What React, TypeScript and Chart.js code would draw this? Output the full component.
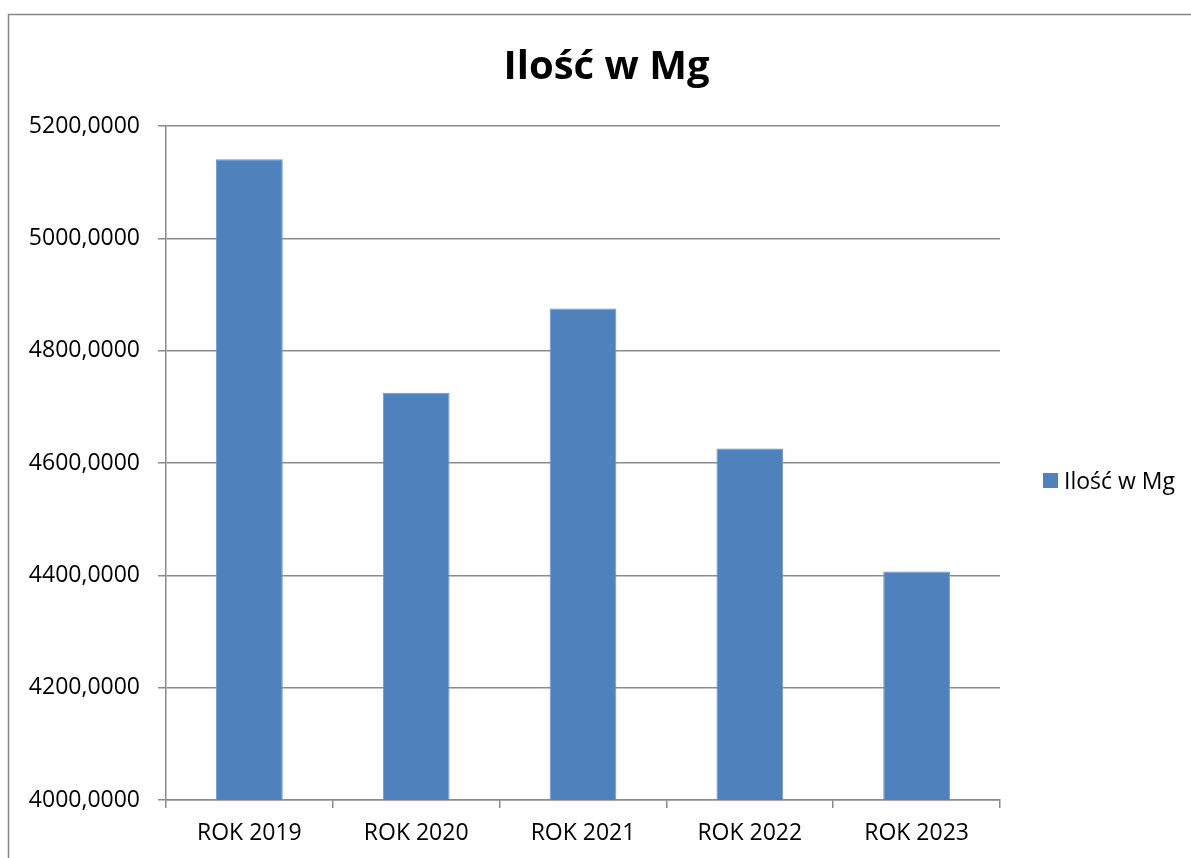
import React, { useEffect, useRef } from "react";
import { Chart, registerables } from "chart.js";

Chart.register(...registerables);

const TITLE = "Ilość w Mg";
const SERIES_NAME = "Ilość w Mg";
const categories = ["ROK 2019", "ROK 2020", "ROK 2021", "ROK 2022", "ROK 2023"];
const values = [5141, 4725, 4875, 4626, 4407];
const yMin = 4000;
const yMax = 5200;
const yStep = 200;

const FONT = "'Open Sans', 'Noto Sans', sans-serif";
const BAR_COLOR = "#4F81BD";
const GRID_COLOR = "#8a8a8a";

const decorPlugin = {
  id: "decor",
  afterDraw(chart: any) {
    const ctx = chart.ctx as CanvasRenderingContext2D;
    ctx.save();
    // outer frame
    ctx.strokeStyle = "#868686";
    ctx.lineWidth = 1.5;
    ctx.beginPath();
    ctx.moveTo(8.5, 870);
    ctx.lineTo(8.5, 14.5);
    ctx.lineTo(1200, 14.5);
    ctx.stroke();
    // title
    ctx.fillStyle = "#000";
    ctx.font = `bold 40px ${FONT}`;
    ctx.textAlign = "center";
    ctx.textBaseline = "alphabetic";
    ctx.fillText(TITLE, 606.5, 79);
    // legend
    ctx.fillStyle = BAR_COLOR;
    ctx.fillRect(1043, 473, 15, 15);
    ctx.fillStyle = "#000";
    ctx.font = `23px ${FONT}`;
    ctx.textAlign = "left";
    ctx.textBaseline = "middle";
    ctx.fillText(SERIES_NAME, 1064, 482);
    ctx.restore();
  },
};

export default function App() {
  const ref = useRef<HTMLCanvasElement>(null);
  useEffect(() => {
    if (!ref.current) return;
    const chart = new Chart(ref.current, {
      type: "bar",
      data: {
        labels: categories,
        datasets: [
          {
            label: SERIES_NAME,
            data: values,
            backgroundColor: BAR_COLOR,
            borderColor: "#6d95c8",
            borderWidth: 1,
            barPercentage: 0.4,
            categoryPercentage: 1,
          },
        ],
      },
      options: {
        animation: false,
        responsive: false,
        maintainAspectRatio: false,
        layout: { padding: { top: 126, right: 191, bottom: 0, left: 0 } },
        plugins: {
          legend: { display: false },
          title: { display: false },
          tooltip: { enabled: false },
        },
        scales: {
          x: {
            offset: true,
            grid: {
              display: true,
              offset: true,
              drawOnChartArea: false,
              drawTicks: true,
              tickLength: 8,
              color: GRID_COLOR,
              lineWidth: 1.5,
            },
            border: { display: true, color: GRID_COLOR, width: 1.5 },
            ticks: {
              color: "#000",
              font: { family: FONT, size: 23 },
              padding: 12,
              maxRotation: 0,
            },
            afterFit(scale: any) {
              scale.height = 58;
            },
          },
          y: {
            min: yMin,
            max: yMax,
            grid: {
              color: GRID_COLOR,
              lineWidth: 1.5,
              drawTicks: true,
              tickLength: 8,
            },
            border: { display: true, color: GRID_COLOR, width: 1.5 },
            ticks: {
              stepSize: yStep,
              color: "#000",
              font: { family: FONT, size: 23 },
              padding: 18,
              callback: (v: any) => Number(v).toFixed(4).replace(".", ","),
            },
            afterFit(scale: any) {
              scale.width = 166;
            },
          },
        },
      },
      plugins: [decorPlugin],
    });
    return () => chart.destroy();
  }, []);
  return (
    <div style={{ position: "fixed", left: 0, top: 0, width: 1191, height: 858, background: "#fff" }}>
      <canvas ref={ref} width={1191} height={858} style={{ display: "block" }} />
    </div>
  );
}
